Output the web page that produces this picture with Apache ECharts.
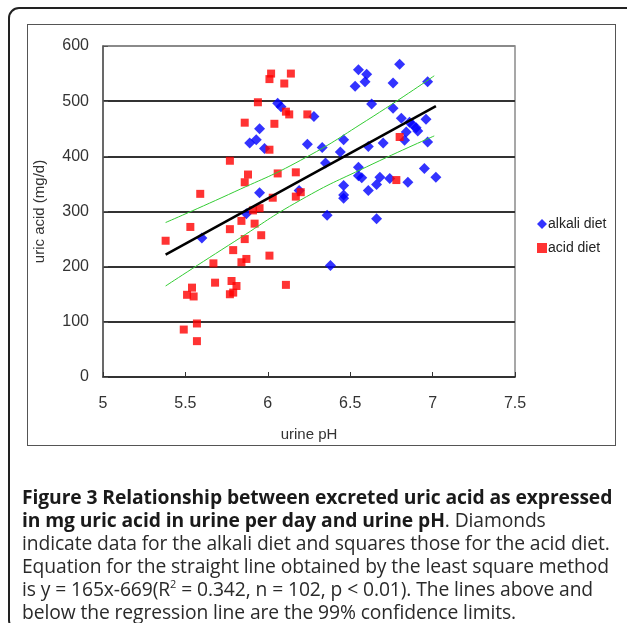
<!DOCTYPE html>
<html>
<head>
<meta charset="utf-8">
<script src="https://cdn.jsdelivr.net/npm/echarts@6/dist/echarts.min.js"></script>
<style>
    body { margin: 0; background: #fff; }
    #wrap { position: relative; width: 627px; height: 623px; overflow: hidden; }
    .outer-box {
        position: absolute; left: 8px; top: 7px; width: 640px; height: 620px;
        border: 2px solid #222; border-radius: 11px;
    }
    .inner-box {
        position: absolute; left: 27px; top: 24px; width: 587px; height: 420px;
        border: 1.5px solid #555;
    }
    #chart { position: absolute; left: 0; top: 0; width: 627px; height: 623px; }
    .caption {
        position: absolute; left: 22px; top: 485px; width: 605px;
        font-family: 'Open Sans', sans-serif; font-size: 19.3px; line-height: 23px;
        color: #2a2a2a; white-space: nowrap; letter-spacing: -0.1px;
    }
    .caption b { font-weight: bold; color: #1a1a1a; }
    .caption sup { font-size: 11px; line-height: 0; vertical-align: 8px; }
</style>
</head>
<body>
<div id="wrap">
    <div class="outer-box"></div>
    <div class="inner-box"></div>
    <div id="chart"></div>
    <div class="caption">
        <b>Figure 3 Relationship between excreted uric acid as expressed<br>
        in mg uric acid in urine per day and urine pH</b>. Diamonds<br>
        indicate data for the alkali diet and squares those for the acid diet.<br>
        Equation for the straight line obtained by the least square method<br>
        is y = 165x-669(R<sup>2</sup> = 0.342, n = 102, p &lt; 0.01). The lines above and<br>
        below the regression line are the 99% confidence limits.
    </div>
</div>
<script>
// alkali diet (diamonds)
var alkaliPH = [5.60, 5.87, 5.95, 5.89, 5.93, 5.95, 5.98, 6.06, 6.08, 6.19, 6.24, 6.28, 6.33,
    6.35, 6.36, 6.38, 6.44, 6.46, 6.46, 6.46, 6.46, 6.53, 6.55, 6.59, 6.60, 6.55, 6.55, 6.57,
    6.61, 6.61, 6.63, 6.66, 6.66, 6.68, 6.70, 6.74, 6.76, 6.76, 6.80, 6.81, 6.83, 6.84, 6.85,
    6.86, 6.88, 6.90, 6.91, 6.95, 6.96, 6.97, 6.97, 7.02];
var alkaliUA = [252, 296, 334, 424, 430, 450, 414, 496, 490, 338, 422, 472, 416,
    388, 293, 202, 408, 430, 347, 330, 324, 527, 557, 535, 549, 380, 365, 361,
    418, 338, 495, 287, 349, 362, 424, 360, 533, 487, 567, 469, 429, 444, 353,
    462, 457, 452, 446, 378, 467, 426, 535, 362];

// acid diet (squares)
var acidPH = [5.38, 5.49, 5.51, 5.53, 5.54, 5.55, 5.57, 5.57, 5.59, 5.67, 5.68, 5.77, 5.77,
    5.77, 5.78, 5.79, 5.79, 5.81, 5.84, 5.84, 5.86, 5.86, 5.86, 5.87, 5.88, 5.91, 5.92, 5.94,
    5.95, 5.96, 6.02, 6.01, 6.01, 6.01, 6.03, 6.04, 6.06, 6.10, 6.11, 6.11, 6.13, 6.14, 6.17,
    6.17, 6.20, 6.24, 6.78, 6.80];
var acidUA = [247, 86, 149, 272, 162, 146, 97, 65, 332, 206, 171, 392, 268,
    150, 174, 230, 153, 165, 283, 208, 461, 353, 250, 214, 367, 302, 278, 498,
    306, 257, 550, 540, 412, 220, 325, 459, 369, 532, 167, 481, 476, 550, 371,
    327, 335, 476, 357, 435];

// regression line and 99% confidence limits
var fitPH = [5.38, 7.02];
var fitUA = [222, 491];
var limitPH = [5.38, 5.8, 6.2, 6.6, 7.01];
var upperUA = [280, 336, 393, 465, 546];
var lowerUA = [165, 246, 321, 381, 437];

var xTicks = [5, 5.5, 6, 6.5, 7, 7.5];
var yTicks = [0, 100, 200, 300, 400, 500, 600];

function pairs(xs, ys) {
    return xs.map(function (x, i) { return [x, ys[i]]; });
}

function initChart() {
    var chart = echarts.init(document.getElementById('chart'));
    var font = 'Liberation Sans, Arial, sans-serif';
    chart.setOption({
        animation: false,
        textStyle: { fontFamily: font },
        grid: {
            left: 103, top: 46, width: 412, height: 331,
            show: true, borderColor: '#8a8a8a', borderWidth: 1.5, backgroundColor: 'transparent'
        },
        legend: {
            orient: 'vertical',
            left: 532, top: 212,
            itemWidth: 10, itemHeight: 10, itemGap: 10,
            textStyle: { fontSize: 14, color: '#222', fontFamily: font, padding: [0, 0, 0, -4] },
            data: [
                { name: 'alkali diet', icon: 'diamond' },
                { name: 'acid diet', icon: 'rect' }
            ]
        },
        xAxis: {
            type: 'value',
            min: xTicks[0], max: xTicks[xTicks.length - 1], interval: 0.5,
            name: 'urine pH', nameLocation: 'middle', nameGap: 50,
            nameTextStyle: { fontSize: 15, color: '#333' },
            axisLine: { lineStyle: { color: '#333', width: 1.5 } },
            axisTick: { inside: true, length: 5, lineStyle: { color: '#333' } },
            axisLabel: { fontSize: 16, color: '#333', margin: 19 },
            splitLine: { show: false }
        },
        yAxis: {
            type: 'value',
            min: yTicks[0], max: yTicks[yTicks.length - 1], interval: 100,
            name: 'uric acid (mg/d)', nameLocation: 'middle', nameGap: 56, nameRotate: 90,
            nameTextStyle: { fontSize: 15, color: '#333' },
            axisLine: { show: true, lineStyle: { color: '#555', width: 1.5 } },
            axisTick: { show: true, inside: true, length: 5, lineStyle: { color: '#555' } },
            axisLabel: { fontSize: 16, color: '#333', margin: 14 },
            splitLine: {
                show: true,
                lineStyle: {
                    color: ['#333', '#333', '#333', '#333', '#333', '#333', '#8a8a8a'],
                    width: 2
                }
            }
        },
        series: [
            {
                name: 'alkali diet',
                type: 'scatter',
                symbol: 'diamond',
                symbolSize: 11,
                itemStyle: { color: '#0000ff' },
                data: pairs(alkaliPH, alkaliUA),
                z: 3
            },
            {
                name: 'acid diet',
                type: 'scatter',
                symbol: 'rect',
                symbolSize: 8,
                itemStyle: { color: '#ff0000' },
                data: pairs(acidPH, acidUA),
                z: 3
            },
            {
                name: 'fit',
                type: 'line',
                showSymbol: false,
                lineStyle: { color: '#000', width: 2.5 },
                data: pairs(fitPH, fitUA),
                z: 4
            },
            {
                name: 'upper',
                type: 'line',
                smooth: true,
                showSymbol: false,
                lineStyle: { color: '#33cc33', width: 1 },
                data: pairs(limitPH, upperUA),
                z: 4
            },
            {
                name: 'lower',
                type: 'line',
                smooth: true,
                showSymbol: false,
                lineStyle: { color: '#33cc33', width: 1 },
                data: pairs(limitPH, lowerUA),
                z: 4
            }
        ]
    });
    return chart;
}

initChart();
</script>
</body>
</html>
